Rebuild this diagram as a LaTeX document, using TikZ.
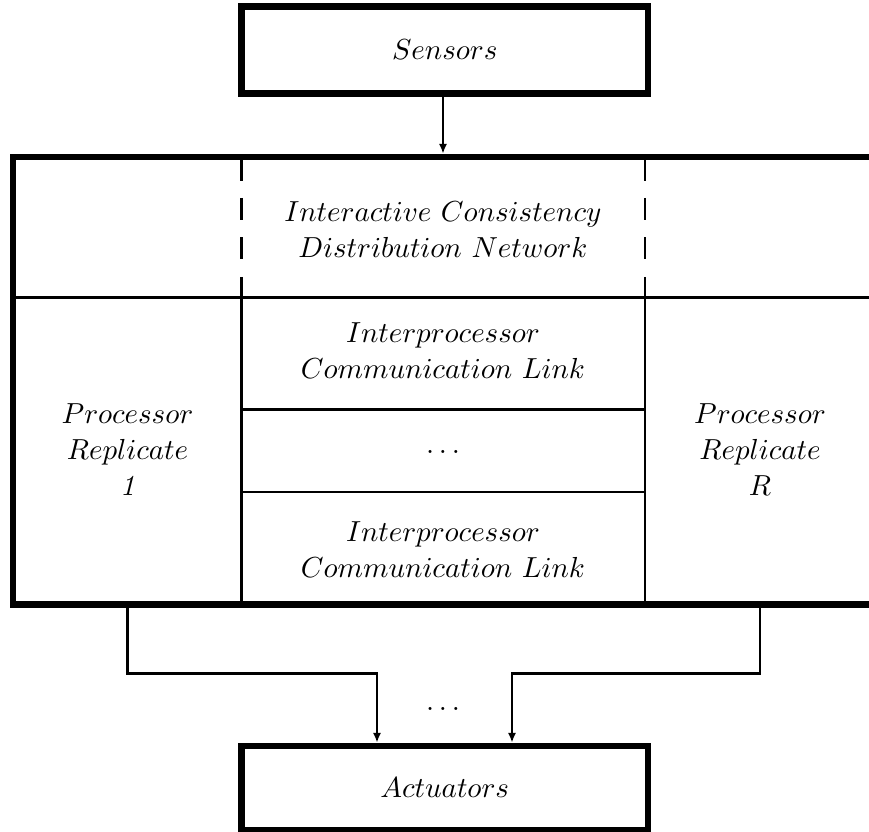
\documentclass[tikz,border=0pt]{standalone}
\usetikzlibrary{arrows.meta}
\begin{document}
\begin{tikzpicture}[x=0.345pt,y=-0.345pt,
  thickbox/.style={draw,line width=2.25pt,rectangle,inner sep=0pt,font=\fontsize{10}{12.4}\selectfont},
  thinline/.style={line width=1pt},
  lbl/.style={align=center,font=\fontsize{10}{12.4}\selectfont,inner sep=0pt},
  arr/.style={thinline,-{Latex[length=3.4pt,width=2.8pt]}}
]
\clip (0,0) rectangle (869,832);
% boxes
\node[thickbox,minimum width=140.2pt,minimum height=30pt] (sensors) at (444.75,50) {$Sensors$};
\node[thickbox,minimum width=140.2pt,minimum height=29pt] (act) at (444.75,788) {$Actuators$};
\node[thickbox,minimum width=300.8pt,minimum height=154.4pt] (sys) at (449,380.75) {};
% internal grid
\draw[thinline] (13,297.5) -- (885,297.5);
\draw[thinline] (241.5,297.5) -- (241.5,604.5);
\draw[thinline] (645,297.5) -- (645,604.5);
\draw[thinline] (241.5,409.5) -- (645,409.5);
\draw[thinline] (241.5,492) -- (645,492);
\draw[thinline,dash pattern=on 7.6pt off 6pt] (241.5,158.5) -- (241.5,297.5);
\draw[thinline,dash pattern=on 7.6pt off 6pt] (645,158.5) -- (645,297.5);
% labels
\node[lbl] (icdn) at (443,230) {$Interactive\ Consistency$\\$Distribution\ Network$};
\node[lbl] (icl1) at (443,351) {$Interprocessor$\\$Communication\ Link$};
\node[lbl] (mid) at (443,452) {$\ldots$};
\node[lbl] (icl2) at (443,550) {$Interprocessor$\\$Communication\ Link$};
\node[lbl] (p1) at (127.5,450) {$Processor$\\$Replicate$\\\textit{1}};
\node[lbl] (pR) at (760,450) {$Processor$\\$Replicate$\\$R$};
\node[lbl] (outdots) at (443,709) {$\ldots$};
% connectors
\coordinate (j1) at (377,673.5);
\coordinate (j2) at (512,673.5);
\draw[arr] (icdn |- sensors.south) -- (icdn |- sys.north);
\draw[arr] (p1 |- sys.south) |- (j1) -- (j1 |- act.north);
\draw[arr] (pR |- sys.south) |- (j2) -- (j2 |- act.north);
\end{tikzpicture}
\end{document}
